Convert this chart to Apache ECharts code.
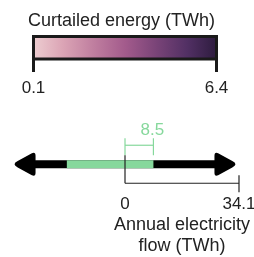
<!DOCTYPE html>
<html>
<head>
<meta charset="utf-8">
<script src="https://cdn.jsdelivr.net/npm/echarts@6/dist/echarts.min.js"></script>
<style>
  html, body { margin: 0; padding: 0; background: #fff; }
  #chart { width: 254px; height: 257px; }
</style>
</head>
<body>
<div id="chart"></div>
<script>
// colour bar
const colorRange = [0.1, 6.4];
const colorTicks = [0.1, 6.4];
const colorStops = ["#eecfd2", "#dba4b5", "#bf7e9f", "#a35b8c", "#7a4478", "#523064", "#2c1b3d"];

// flow arrow
const arrowBody = [-29, 29];
const arrowHeads = [-29.9, 29.9];
const greenSpan = [-17.4, 8.5];
const netFlow = [0, 8.5];
const flowTicks = [0, 34.1];

const font = "'Liberation Sans', Arial, sans-serif";
const green = "#86d89c";

const myChart = echarts.init(document.getElementById("chart"));

// bracket drawn in data x, pixel offsets in y from the arrow centre
function bracket(x0, x1, y, t0, t1, color) {
  return function (params, api) {
    const a = api.coord([x0, 0]);
    const b = api.coord([x1, 0]);
    const cy = a[1];
    const style = { stroke: color, lineWidth: 1.2 };
    return {
      type: "group",
      children: [
        { type: "line", shape: { x1: a[0], y1: cy + y, x2: b[0], y2: cy + y }, style: style },
        { type: "line", shape: { x1: a[0], y1: cy + t0[0], x2: a[0], y2: cy + t0[1] }, style: style },
        { type: "line", shape: { x1: b[0], y1: cy + t1[0], x2: b[0], y2: cy + t1[1] }, style: style },
      ],
    };
  };
}

const headPath = "path://M0,11 Q0,9.5 3,8 L16.5,0.6 Q20,-1 20,3 L20,19 Q20,23 16.5,21.4 L3,14 Q0,12.5 0,11 Z";

const option = {
  animation: false,
  title: {
    text: "Curtailed energy (TWh)",
    left: 23,
    top: 7,
    textStyle: { fontFamily: font, fontSize: 18, fontWeight: "normal", color: "#222" },
  },
  grid: [
    { left: 33.5, right: 37.5, top: 36.5, height: 22.5 },
    { left: 8, right: 8.65, top: 120, height: 88.5 },
  ],
  xAxis: [
    {
      gridIndex: 0,
      type: "value",
      min: colorRange[0],
      max: colorRange[1],
      splitLine: { show: false },
      axisLine: { show: false },
      axisTick: {
        show: true,
        customValues: colorTicks,
        length: 13,
        lineStyle: { color: "#1a1a1a", width: 3 },
      },
      axisLabel: {
        customValues: colorTicks,
        formatter: (v) => v.toFixed(1),
        margin: 21,
        fontFamily: font,
        fontSize: 17,
        color: "#222",
      },
    },
    {
      gridIndex: 1,
      type: "value",
      min: -35,
      max: 36,
      show: false,
    },
  ],
  yAxis: [
    { gridIndex: 0, type: "value", min: 0, max: 1, show: false },
    { gridIndex: 1, type: "value", min: -1, max: 1, show: false },
  ],
  series: [
    {
      type: "custom",
      xAxisIndex: 0,
      yAxisIndex: 0,
      data: [[colorRange[0], colorRange[1]]],
      renderItem: function (params, api) {
        const p0 = api.coord([api.value(0), 1]);
        const p1 = api.coord([api.value(1), 0]);
        return {
          type: "rect",
          shape: { x: p0[0], y: p0[1], width: p1[0] - p0[0], height: p1[1] - p0[1] },
          style: {
            fill: new echarts.graphic.LinearGradient(0, 0, 1, 0,
              colorStops.map((c, i) => ({ offset: i / (colorStops.length - 1), color: c }))),
            stroke: "#1a1a1a",
            lineWidth: 3,
          },
        };
      },
    },
    {
      type: "line",
      xAxisIndex: 1,
      yAxisIndex: 1,
      symbol: "none",
      data: arrowBody.map((x) => [x, 0]),
      lineStyle: { color: "#000", width: 8 },
      z: 2,
    },
    {
      type: "line",
      xAxisIndex: 1,
      yAxisIndex: 1,
      symbol: "none",
      data: greenSpan.map((x) => [x, 0]),
      lineStyle: { color: green, width: 8 },
      z: 3,
    },
    {
      type: "scatter",
      xAxisIndex: 1,
      yAxisIndex: 1,
      symbol: headPath,
      symbolSize: [21, 23],
      symbolKeepAspect: false,
      data: [
        { value: [arrowHeads[0], 0], symbolRotate: 0 },
        { value: [arrowHeads[1], 0], symbolRotate: 180 },
      ],
      itemStyle: { color: "#000", opacity: 1 },
      z: 4,
    },
    {
      type: "custom",
      xAxisIndex: 1,
      yAxisIndex: 1,
      data: [[0, 0]],
      renderItem: bracket(netFlow[0], netFlow[1], -19, [-26, -9], [-26, -9], green),
      z: 5,
    },
    {
      type: "custom",
      xAxisIndex: 1,
      yAxisIndex: 1,
      data: [[0, 0]],
      renderItem: bracket(flowTicks[0], flowTicks[1], 19, [-9, 19], [11, 28], "#222"),
      z: 5,
    },
    {
      type: "custom",
      xAxisIndex: 1,
      yAxisIndex: 1,
      data: [[netFlow[1], 0]],
      renderItem: function (params, api) {
        const p = api.coord([api.value(0), 0]);
        return {
          type: "text",
          x: p[0] - 1,
          y: p[1] - 34,
          style: {
            text: String(netFlow[1]),
            fontFamily: font, fontSize: 17, fill: green,
            align: "center", verticalAlign: "middle",
          },
        };
      },
      z: 6,
    },
    {
      type: "custom",
      xAxisIndex: 1,
      yAxisIndex: 1,
      data: flowTicks.map((x) => [x, 0]),
      renderItem: function (params, api) {
        const p = api.coord([api.value(0), 0]);
        return {
          type: "text",
          x: p[0],
          y: p[1] + 40,
          style: {
            text: String(api.value(0)),
            fontFamily: font, fontSize: 17, fill: "#222",
            align: "center", verticalAlign: "middle",
          },
        };
      },
      z: 6,
    },
    {
      type: "custom",
      xAxisIndex: 1,
      yAxisIndex: 1,
      data: [[(flowTicks[0] + flowTicks[1]) / 2, 0]],
      renderItem: function (params, api) {
        const p = api.coord([api.value(0), 0]);
        return {
          type: "text",
          x: p[0],
          y: p[1] + 71,
          style: {
            text: "Annual electricity\nflow (TWh)",
            fontFamily: font, fontSize: 18, lineHeight: 21, fill: "#222",
            align: "center", verticalAlign: "middle",
          },
        };
      },
      z: 6,
    },
  ],
};

myChart.setOption(option);
</script>
</body>
</html>
